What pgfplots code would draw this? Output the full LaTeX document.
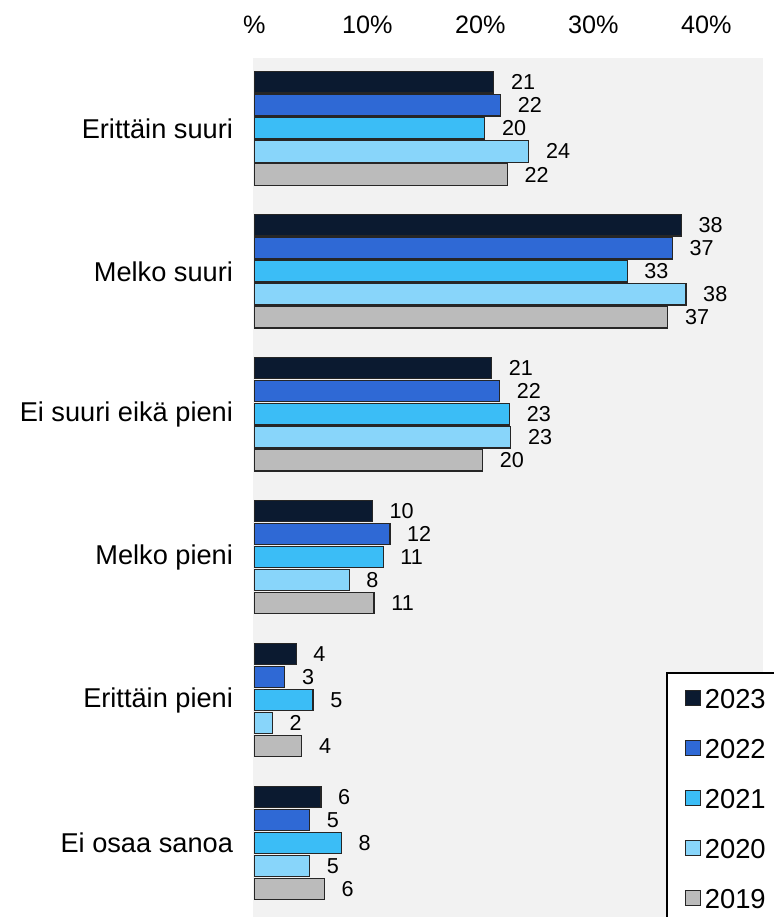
\documentclass[border=0pt]{standalone}
\usepackage{fontspec}
\setmainfont{Liberation Sans}
\usepackage{pgfplots}
\pgfplotsset{compat=1.18}
\definecolor{cA}{HTML}{0B1A30}
\definecolor{cB}{HTML}{2F69D5}
\definecolor{cC}{HTML}{3BBDF6}
\definecolor{cD}{HTML}{88D5FA}
\definecolor{cE}{HTML}{BBBBBB}
\definecolor{bgGray}{HTML}{F2F2F2}
\begin{document}
\begin{tikzpicture}
\useasboundingbox (0,0) rectangle (387pt,458.5pt);
\begin{scope}
\clip (0,0) rectangle (387pt,458.5pt);
\begin{axis}[
  at={(126.5pt,0pt)}, anchor=south west,
  scale only axis, width=255.25pt, height=429.5pt,
  xmin=-0.115, xmax=45.06, ymin=-0.518, ymax=5.493,
  xbar, bar width=0.149,
  axis background/.style={fill=bgGray},
  axis line style={draw=none},
  major tick length=0pt,
  tick style={draw=none},
  xtick={0,10,20,30,40},
  xticklabels={\mbox{\%},\mbox{10\%},\mbox{20\%},\mbox{30\%},\mbox{40\%}},
  xticklabel pos=upper,
  xticklabel style={font=\fontsize{12.6}{15}\selectfont, yshift=8.5pt},
  ytick={0,1,2,3,4,5},
  yticklabels={Ei osaa sanoa, Erittäin pieni, Melko pieni, Ei suuri eikä pieni, Melko suuri, Erittäin suuri},
  yticklabel style={font=\fontsize{13.6}{16}\selectfont, xshift=-6.5pt},
  /pgf/number format/assume math mode=true,
  point meta=x,
  nodes near coords={\pgfmathprintnumber[fixed,precision=0]{\pgfplotspointmeta}},
  nodes near coords style={font=\fontsize{10.8}{12}\selectfont, anchor=west, xshift=5pt, text=black},
  every axis plot/.append style={draw=black!85, line width=0.6pt},
  legend cell align=left,
  legend style={at={(0.809,0.2852)}, anchor=north west, fill=white, draw=black, line width=0.8pt,
    font=\fontsize{13.7}{16}\selectfont,
    nodes={inner sep=0pt, text height=9.8pt, text depth=0pt},
    row sep=15.2pt, column sep=2pt, inner xsep=9pt, inner ysep=7.8pt},
  clip=false,
]
\addplot[fill=cA, bar shift=0.322, legend image code/.code={\draw[fill=cA,draw=black!85,line width=0.5pt] (0pt,-3.75pt) rectangle (7.5pt,3.75pt);}]
  coordinates {(21.2,5) (37.8,4) (21.0,3) (10.45,2) (3.7,1) (5.9,0)};
\addplot[fill=cB, bar shift=0.161, legend image code/.code={\draw[fill=cB,draw=black!85,line width=0.5pt] (0pt,-3.75pt) rectangle (7.5pt,3.75pt);}]
  coordinates {(21.8,5) (37.0,4) (21.7,3) (12.0,2) (2.7,1) (4.9,0)};
\addplot[fill=cC, bar shift=0, legend image code/.code={\draw[fill=cC,draw=black!85,line width=0.5pt] (0pt,-3.75pt) rectangle (7.5pt,3.75pt);}]
  coordinates {(20.4,5) (33.0,4) (22.6,3) (11.4,2) (5.2,1) (7.7,0)};
\addplot[fill=cD, bar shift=-0.161, legend image code/.code={\draw[fill=cD,draw=black!85,line width=0.5pt] (0pt,-3.75pt) rectangle (7.5pt,3.75pt);}]
  coordinates {(24.3,5) (38.2,4) (22.7,3) (8.4,2) (1.6,1) (4.9,0)};
\addplot[fill=cE, bar shift=-0.322, legend image code/.code={\draw[fill=cE,draw=black!85,line width=0.5pt] (0pt,-3.75pt) rectangle (7.5pt,3.75pt);}]
  coordinates {(22.4,5) (36.6,4) (20.2,3) (10.6,2) (4.2,1) (6.2,0)};
\legend{2023,2022,2021,2020,2019}
\end{axis}
\end{scope}
\end{tikzpicture}
\end{document}
